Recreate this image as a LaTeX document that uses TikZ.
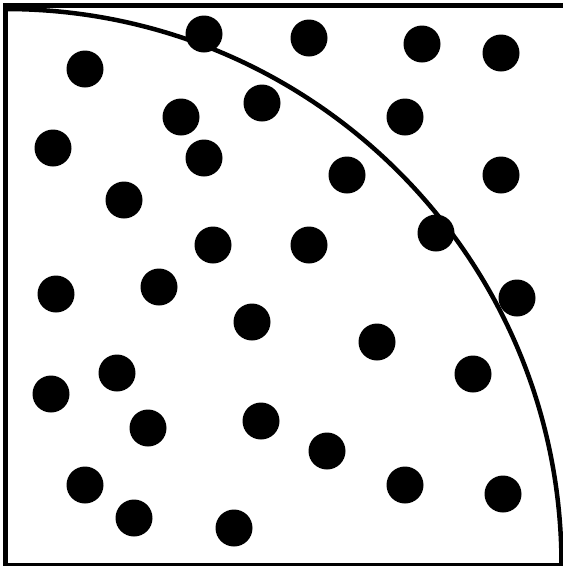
\documentclass[tikz,border=0pt]{standalone}
\usepackage{tikz}
\tikzset{
  mcframe/.style={draw=black, line width=5pt},
  mcarc/.style={draw=black, line width=4.5pt},
  mcdot/.style={fill=black}
}
\begin{document}
\begin{tikzpicture}[x=1pt, y=-1pt]
  \useasboundingbox (0,0) rectangle (563,566);
  \clip (0,0) rectangle (563,566);
  % square and quarter circle
  \draw[mcframe] (5.5,5.5) rectangle (565,565);
  \draw[mcarc] (5.5,9) arc[start angle=-90, end angle=0, radius=556];
  % random points
  \foreach \px/\py in {204/34, 309/38, 422/44, 501/53, 85/69, 262/103, 181/117,
    405/117, 53/148, 204/158, 347/175, 501/175, 124/200, 436/233, 213/245,
    309/245, 56/294, 159/287, 517/298, 252/322, 377/342, 117/373, 473/374,
    51/394, 148/428, 261/421, 327/451, 85/485, 405/485, 503/494, 134/518, 234/528}
    \fill[mcdot] (\px,\py) circle[radius=18.5];
\end{tikzpicture}
\end{document}
